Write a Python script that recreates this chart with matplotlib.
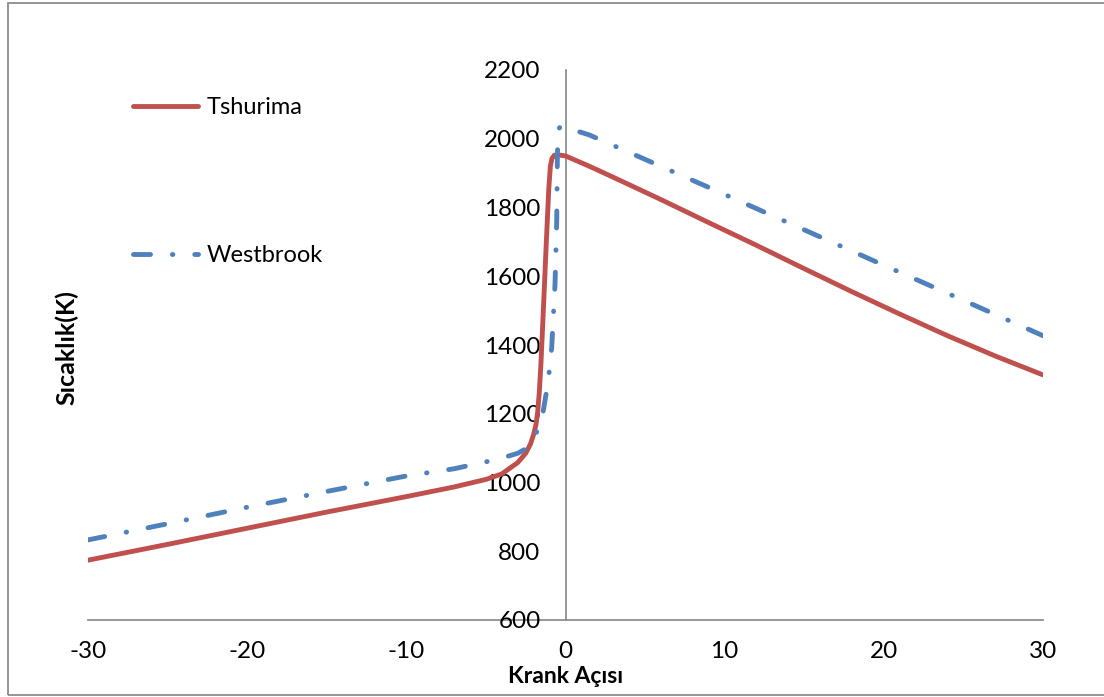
import matplotlib
matplotlib.use("Agg")
import matplotlib.pyplot as plt
from matplotlib.patches import Rectangle

# Crank angle (deg) and temperature (K) for each model
tshurima_x = [-30, -25, -20, -15, -10, -7, -5, -4, -3, -2.5, -2.2, -2.0, -1.85, -1.75,
              -1.65, -1.55, -1.45, -1.35, -1.2, -1.05, -0.95, -0.85, -0.7, -0.55, -0.3, 0,
              1.5, 3, 6, 9, 12, 15, 18, 21, 24, 27, 30]
tshurima_y = [774, 820, 867, 914, 959, 987, 1009, 1025, 1058, 1085, 1112, 1140, 1170, 1205,
              1260, 1340, 1440, 1545, 1705, 1855, 1920, 1943, 1952, 1953, 1952, 1950,
              1920, 1888, 1823, 1756, 1690, 1622, 1555, 1490, 1427, 1368, 1313]

westbrook_x = [-30, -25, -20, -15, -10, -7, -5, -4, -3, -2.5, -2, -1.7, -1.4, -1.1,
               -0.87, -0.66, -0.55, -0.51, -0.47, -0.4, -0.3, -0.15, 0,
               1.5, 5, 10, 15, 20, 25, 30]
westbrook_y = [833, 880, 928, 974, 1019, 1040, 1060, 1071, 1085, 1098, 1125, 1160, 1208, 1290,
               1390, 1575, 1764, 1948, 2010, 2030, 2037, 2036, 2033,
               2011, 1940, 1838, 1735, 1632, 1530, 1427]

x_ticks = [-30, -20, -10, 0, 10, 20, 30]
y_ticks = [600, 800, 1000, 1200, 1400, 1600, 1800, 2000, 2200]

RED = "#C0504D"
BLUE = "#4F81BD"
AXIS_GRAY = "#868686"

plt.rcParams["font.family"] = ["Lato", "DejaVu Sans"]

W, H = 1104, 697
fig = plt.figure(figsize=(W / 100, H / 100), dpi=100)
ax = fig.add_axes([88 / W, 77 / H, 955 / W, 550 / H])

lw = 3.5
ax.plot(tshurima_x, tshurima_y, color=RED, lw=lw, solid_capstyle="round",
        solid_joinstyle="round", label="Tshurima")
ax.plot(westbrook_x, westbrook_y, color=BLUE, lw=lw,
        linestyle=(0, (3.5, 4.5, 0.1, 4.5)), dash_capstyle="round",
        dash_joinstyle="round", label="Westbrook")

ax.set_xlim(-30, 30)
ax.set_ylim(600, 2200)
ax.set_xticks(x_ticks)
ax.set_yticks(y_ticks)
ax.set_xticklabels([str(v) for v in x_ticks])
ax.set_yticklabels([str(v) for v in y_ticks])

for side in ("top", "right"):
    ax.spines[side].set_visible(False)
ax.spines["left"].set_position(("data", 0))
for side in ("left", "bottom"):
    ax.spines[side].set_color(AXIS_GRAY)
    ax.spines[side].set_linewidth(1.2)
    ax.spines[side].set_zorder(0.5)

ax.tick_params(axis="both", length=0, labelsize=17.5, colors="black")
ax.tick_params(axis="y", pad=18)
ax.tick_params(axis="x", pad=15)

ax.set_xlabel("Krank Açısı", fontsize=16.5, fontweight="bold")
ax.xaxis.label.set(va="baseline")
ax.xaxis.set_label_coords(0.5, (620 - 683) / 550)
ax.set_ylabel("Sıcaklık(K)", fontsize=18, fontweight="bold")
ax.yaxis.label.set(va="center", ha="center")
ax.yaxis.set_label_coords((67 - 88) / 955, (620 - 348) / 550)

ax.legend(loc="upper left", bbox_to_anchor=(133 / W, (H - 97) / H),
          bbox_transform=fig.transFigure, frameon=False, fontsize=17,
          handlelength=2.75, handletextpad=0.35, labelspacing=5.4,
          borderpad=0, borderaxespad=0)

# Chart-area border
fig.patches.append(Rectangle((7.5 / W, 2 / H), 1.2, (H - 5) / H,
                             transform=fig.transFigure, fill=False,
                             edgecolor="#8C8C8C", lw=1.3))

fig.savefig("out.png", dpi=100)
